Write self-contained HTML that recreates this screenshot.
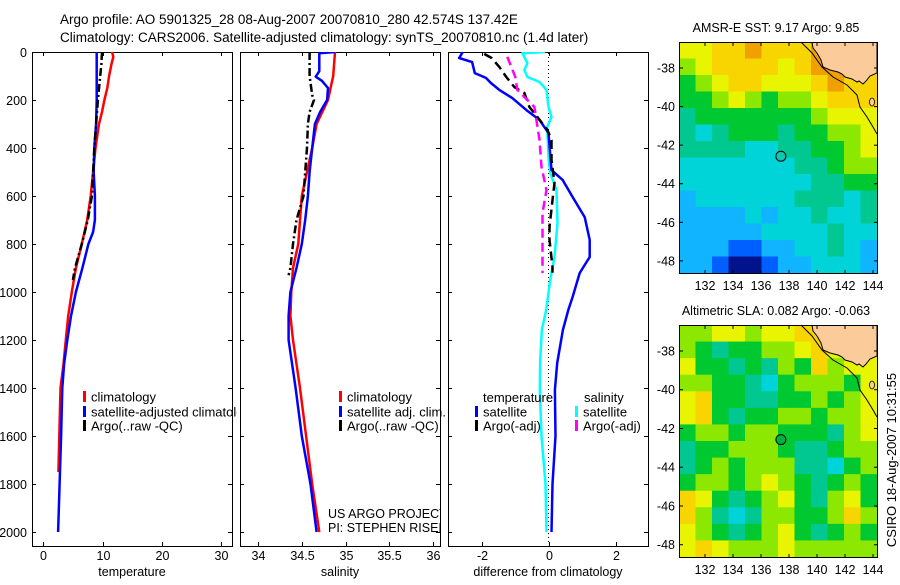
<!DOCTYPE html>
<html><head><meta charset="utf-8">
<style>
html,body{margin:0;padding:0;background:#fff;}
body{width:900px;height:580px;overflow:hidden;font-family:"Liberation Sans",sans-serif;}
svg text{font-family:"Liberation Sans",sans-serif;fill:#000;}
</style></head>
<body>
<svg id="fig" width="900" height="580" viewBox="0 0 900 580" xmlns="http://www.w3.org/2000/svg">
<text x="60" y="24" font-size="13.5">Argo profile: AO 5901325_28 08-Aug-2007 20070810_280 42.574S 137.42E</text>
<text x="60" y="42" font-size="13.5">Climatology: CARS2006. Satellite-adjusted climatology: synTS_20070810.nc (1.4d later)</text>
<defs>
<clipPath id="c1"><rect x="32" y="52" width="205" height="494"/></clipPath>
<clipPath id="c2"><rect x="240" y="52" width="200" height="494"/></clipPath>
<clipPath id="c3"><rect x="448" y="52" width="200" height="494"/></clipPath>
<clipPath id="m1"><rect x="679" y="42" width="198" height="231"/></clipPath>
<clipPath id="m2"><rect x="679" y="325" width="198" height="232"/></clipPath>
</defs>
<g id="panels"></g>
<g id="maps"></g>
<text transform="translate(896,460) rotate(-90)" text-anchor="middle" font-size="13">CSIRO 18-Aug-2007 10:31:55</text>
</svg>
<script>
// ---------- profile data (depth in m) ----------
const tDepthClim = [0,20,50,100,150,200,250,300,400,500,600,700,800,900,1000,1100,1200,1300,1400,1600,1750];
const tClim      = [11.6,11.8,11.5,11.1,10.8,10.3,9.9,9.4,8.8,8.4,8.0,7.4,6.5,5.5,4.8,4.2,3.8,3.4,2.9,2.7,2.55];
const tDepthSat  = [0,100,200,300,400,500,600,700,750,800,900,1000,1100,1200,1300,1400,1600,1800,2000];
const tSat       = [9.0,9.0,9.0,8.9,8.6,8.5,8.7,8.7,8.4,7.6,6.6,5.5,4.67,4.05,3.5,3.2,3.0,2.75,2.5];
const tDepthArgo = [0,50,100,200,300,400,500,600,700,800,900,950];
const tArgo      = [9.9,9.8,9.6,9.2,8.9,8.6,8.4,8.2,7.5,6.5,5.35,5.0];

const sDepthClim = [0,100,200,300,400,500,600,700,800,900,1000,1100,1200,1300,1400,1600,1800,2000];
const sClim      = [34.88,34.86,34.80,34.67,34.62,34.56,34.50,34.48,34.46,34.40,34.38,34.37,34.40,34.44,34.48,34.55,34.62,34.70];
const sDepthSat  = [0,5,50,80,103,120,150,200,250,300,400,500,600,700,800,900,1000,1100,1200,1300,1400,1600,1800,2000];
const sSat       = [34.88,34.70,34.70,34.70,34.66,34.73,34.80,34.79,34.71,34.65,34.62,34.59,34.57,34.54,34.50,34.44,34.37,34.35,34.35,34.39,34.43,34.50,34.60,34.67];
const sDepthArgo = [0,100,180,200,250,300,400,500,600,700,800,900,930];
const sArgo      = [34.59,34.59,34.62,34.64,34.59,34.57,34.56,34.54,34.52,34.44,34.40,34.37,34.35];

const dDepthTSat = [0,5,25,42,88,108,129,158,192,242,283,338,492,533,604,688,783,854,921,1021,1075,1158,1296,1408,1600,1800,2000];
const dTSat      = [-2.6,-2.58,-2.67,-2.28,-2.2,-1.87,-1.72,-1.47,-1.08,-0.66,-0.27,0.0,0.09,0.42,0.72,1.08,1.23,1.23,0.93,0.72,0.59,0.43,0.26,0.19,0.21,0.12,0.09];
const dDepthSSat = [0,5,46,75,104,125,158,229,271,313,438,504,575,713,854,950,1075,1158,1296,1408,1600,1800,2000];
const dSSat      = [-0.1,-0.78,-0.63,-0.72,-0.63,-0.27,-0.06,0.0,0.09,-0.04,0.0,0.05,0.24,0.27,0.18,0.05,-0.07,-0.2,-0.25,-0.26,-0.21,-0.09,-0.06];
const dDepthTArgo = [8,25,62,104,146,171,229,271,325,367,450,546,617,729,783,896,920];
const dTArgo      = [-1.92,-1.7,-1.47,-1.26,-1.02,-0.72,-0.57,-0.33,-0.03,0.09,0.09,0.18,0.12,0.03,0.03,0.12,0.12];
const dDepthSArgo = [20,62,104,158,229,283,367,479,575,671,783,921];
const dSArgo      = [-1.23,-1.11,-0.99,-0.93,-0.42,-0.36,-0.27,-0.21,-0.06,-0.18,-0.18,-0.18];

const depthTicks = [0,200,400,600,800,1000,1200,1400,1600,1800,2000];
const tTicks = [0,10,20,30];
const sTicks = [34,34.5,35,35.5,36];
const sTickLabels = ["34","34.5","35","35.5","36"];
const dTicks = [-2,0,2];

// ---------- map data (12 cols x 14 rows, colour class 0..9, -1 = land) ----------
const sstGrid = [
[7,7,8,8,9,8,8,8,9,-1,-1,-1],
[6,7,8,8,8,8,7,8,9,9,-1,-1],
[5,6,7,8,8,7,7,7,8,9,8,8],
[5,5,6,7,6,5,6,6,7,8,8,8],
[4,5,5,5,5,5,5,5,6,7,7,7],
[4,3,4,5,5,5,4,5,5,6,6,7],
[4,4,4,4,3,3,4,4,5,5,6,7],
[3,3,3,3,3,3,3,4,4,5,6,6],
[3,3,3,3,3,3,3,3,4,4,5,5],
[2,3,3,3,3,3,3,4,4,4,3,4],
[2,2,2,2,3,2,3,3,4,3,3,4],
[2,2,2,2,2,3,3,3,3,4,3,3],
[2,2,2,1,1,2,2,3,3,4,3,2],
[2,2,1,0,0,1,2,2,3,3,3,2]];
const slaGrid = [
[6,6,7,7,6,7,7,8,8,-1,-1,-1],
[6,5,4,5,5,6,6,7,8,7,7,7],
[7,5,5,4,5,4,6,5,8,6,7,7],
[6,6,5,5,4,3,5,6,6,6,5,7],
[7,8,5,5,4,4,5,5,6,5,6,7],
[7,8,5,4,5,5,6,6,5,6,6,7],
[5,6,6,5,6,6,5,5,5,4,6,7],
[4,5,5,6,6,6,5,4,4,5,6,6],
[4,5,6,5,6,6,6,4,4,3,5,6],
[5,6,6,5,6,7,6,5,4,5,6,5],
[8,7,5,4,5,6,7,5,4,6,7,5],
[8,6,4,3,4,6,6,5,5,6,8,6],
[7,6,5,4,5,6,7,5,4,5,6,5],
[7,8,7,6,6,6,7,6,6,6,6,6]];
const palette = ["#00128c","#0060ff","#10b4ff","#00d4d8","#00c890","#00c830","#8ce800","#e8f400","#f8d400","#f0a000"];
const lonTicks = [132,134,136,138,140,142,144];
const latTicks = [-38,-40,-42,-44,-46,-48];
const argoLon = 137.42, argoLat = -42.574;

const NS = "http://www.w3.org/2000/svg";
function mk(tag, attrs, parent){const e=document.createElementNS(NS,tag);for(const k in attrs)e.setAttribute(k,attrs[k]);parent.appendChild(e);return e;}

const Y = d => 52 + 0.24*d;
const panelsG = document.getElementById('panels');
const panels = [
 {x0:32, xs:v=>43.3+5.93*v, ticks:tTicks, labels:tTicks.map(String), title:"temperature", clip:"c1", name:"temperature-panel"},
 {x0:240, xs:v=>258+87.5*(v-34), ticks:sTicks, labels:sTickLabels, title:"salinity", clip:"c2", name:"salinity-panel"},
 {x0:448, xs:v=>548.5+33.5*v, ticks:dTicks, labels:dTicks.map(String), title:"difference from climatology", clip:"c3", name:"difference-panel"}
];
panels.forEach((p,pi)=>{
  const g = mk('g',{},panelsG);
  
  
  const W=200, top=52, bot=546;
  const box = mk('rect',{x:p.x0+0.5,y:top+0.5,width:W,height:bot-top,fill:'none',stroke:'#000','stroke-width':1},g);
  
  
  depthTicks.forEach(d=>{
    const y=Y(d)+0.5;
    mk('line',{x1:p.x0,x2:p.x0+4,y1:y,y2:y,stroke:'#000'},g);
    mk('line',{x1:p.x0+W-4,x2:p.x0+W,y1:y,y2:y,stroke:'#000'},g);
    if(pi===0){const t=mk('text',{x:27,y:y+4.5,'text-anchor':'end','font-size':12.5},g);t.textContent=d;
      
      }
  });
  p.ticks.forEach((v,i)=>{
    const x=Math.round(p.xs(v))+0.5;
    mk('line',{x1:x,x2:x,y1:top,y2:top+4,stroke:'#000'},g);
    mk('line',{x1:x,x2:x,y1:bot-4,y2:bot,stroke:'#000'},g);
    const t=mk('text',{x:x,y:560,'text-anchor':'middle','font-size':12.5},g);t.textContent=p.labels[i];
    
    
  });
  const tt=mk('text',{x:p.x0+100,y:576,'text-anchor':'middle','font-size':12.5},g);tt.textContent=p.title;
  
  
});
function line(depths, vals, xs, color, dash, clip, name, width){
  const pts = depths.map((d,i)=>xs(vals[i]).toFixed(1)+','+Y(d).toFixed(1)).join(' ');
  const a={points:pts,fill:'none',stroke:color,'stroke-width':width||2.5,'clip-path':'url(#'+clip+')','stroke-linejoin':'round'};
  if(dash)a['stroke-dasharray']=dash;
  const e=mk('polyline',a,panelsG);
  
  
}
const P=panels;
const zl=mk('line',{x1:P[2].xs(0),x2:P[2].xs(0),y1:53,y2:545,stroke:'#000','stroke-dasharray':'1,3'},panelsG);


line(tDepthClim,tClim,P[0].xs,'#ff0000',null,'c1','temp-climatology-line');
line(tDepthSat,tSat,P[0].xs,'#0000ff',null,'c1','temp-satellite-line');
line(tDepthArgo,tArgo,P[0].xs,'#000',"8,3,2,3",'c1','temp-argo-line');
line(sDepthClim,sClim,P[1].xs,'#ff0000',null,'c2','sal-climatology-line');
line(sDepthSat,sSat,P[1].xs,'#0000ff',null,'c2','sal-satellite-line');
line(sDepthArgo,sArgo,P[1].xs,'#000',"8,3,2,3",'c2','sal-argo-line');
line(dDepthSSat,dSSat,P[2].xs,'#00ffff',null,'c3','diff-sal-satellite-line');
line(dDepthTSat,dTSat,P[2].xs,'#0000ff',null,'c3','diff-temp-satellite-line');
line(dDepthTArgo,dTArgo,P[2].xs,'#000',"9,5",'c3','diff-temp-argo-line');
line(dDepthSArgo,dSArgo,P[2].xs,'#ff00ff',"9,5",'c3','diff-sal-argo-line');

function legend(x,y,color,text,clip){
  const g=mk('g',{},panelsG);
  
  
  mk('rect',{x:x,y:y-6,width:3,height:11,fill:color},g);
  const t=mk('text',{x:x+8,y:y+4.5,'font-size':13},g);t.textContent=text;
  if(clip)t.setAttribute('clip-path','url(#'+clip+')');
}
legend(83,397,'#ff0000','climatology');
legend(83,412,'#0000ff','satellite-adjusted climatology','c1');
legend(83,426,'#000','Argo(..raw -QC)');
legend(339,397,'#ff0000','climatology');
legend(339,412,'#0000ff','satellite adj. clim.');
legend(339,426,'#000','Argo(..raw -QC)');
let h1=mk('text',{x:483,y:402,'font-size':13},panelsG);h1.textContent='temperature';


let h2=mk('text',{x:584,y:402,'font-size':13},panelsG);h2.textContent='salinity';


legend(475,412,'#0000ff','satellite');
legend(475,426,'#000','Argo(-adj)');
legend(575,412,'#00ffff','satellite');
legend(575,426,'#ff00ff','Argo(-adj)');
let u1=mk('text',{x:328,y:518,'font-size':12.5,'clip-path':'url(#c2)'},panelsG);u1.textContent='US ARGO PROJECT';


let u2=mk('text',{x:328,y:532,'font-size':12.5,'clip-path':'url(#c2)'},panelsG);u2.textContent='PI: STEPHEN RISER';



// ---------- maps ----------
const mapsG=document.getElementById('maps');
const land=[[133,0],[134,6],[138,11],[142,18],[144,25],[151,28],[159,30],[163,32],[166,35],[173,37],[178,40],[180,39],[184,42],[187,39],[191,34],[198,31],[198,0]];
const coast=[[122,0],[133,11],[143,25],[154,35],[168,43],[178,53],[181,65],[188,75],[194,85],[198,92]];
function drawMap(grid, top, h, title, clip, name, dotColor){
  const g=mk('g',{},mapsG);
  
  
  const L=679,W=198;
  const lonX=lon=>705+(lon-132)*14;
  const latY=lat=>top+26+(-38-lat)*(h*0.835/10);
  const rows=grid.length, cols=grid[0].length, cw=W/cols, ch=h/rows;
  const cg=mk('g',{'clip-path':'url(#'+clip+')'},g);
  grid.forEach((r,ri)=>r.forEach((v,ci)=>{
    const c=mk('rect',{x:(L+ci*cw).toFixed(2),y:(top+ri*ch).toFixed(2),width:(cw+0.6).toFixed(2),height:(ch+0.6).toFixed(2),fill:v<0?'#fccb9a':palette[v]},cg);
    
    
  }));
  const lp=mk('polygon',{points:land.map(p=>(L+p[0])+','+(top+p[1])).join(' '),fill:'#fccb9a',stroke:'#000','stroke-width':1},cg);
  
  
  const cl=mk('polyline',{points:coast.map(p=>(L+p[0])+','+(top+p[1])).join(' '),fill:'none',stroke:'#000','stroke-width':1},cg);
  
  
  const isl=mk('ellipse',{cx:L+193,cy:top+60,rx:2.5,ry:4,fill:'#fccb9a',stroke:'#000','stroke-width':0.8},cg);
  
  
  const fr=mk('rect',{x:L+0.5,y:top+0.5,width:W,height:h,fill:'none',stroke:'#000'},g);
  
  
  lonTicks.forEach(lon=>{const x=lonX(lon);
    mk('line',{x1:x,x2:x,y1:top,y2:top+4,stroke:'#000'},g);
    mk('line',{x1:x,x2:x,y1:top+h-3,y2:top+h+1,stroke:'#000'},g);
    const t=mk('text',{x:x,y:top+h+17,'text-anchor':'middle','font-size':12.5},g);t.textContent=lon;
    
    });
  latTicks.forEach(lat=>{const y=latY(lat);
    mk('line',{x1:L,x2:L+4,y1:y,y2:y,stroke:'#000'},g);
    mk('line',{x1:L+W-3,x2:L+W+1,y1:y,y2:y,stroke:'#000'},g);
    const t=mk('text',{x:L-4,y:y+4.5,'text-anchor':'end','font-size':12.5},g);t.textContent=lat;
    
    });
  const dot=mk('circle',{cx:lonX(argoLon),cy:latY(argoLat),r:5,fill:dotColor,stroke:'#000','stroke-width':1},g);
  
  
  const tt=mk('text',{x:L+W/2-2,y:top-10,'text-anchor':'middle','font-size':12.5},g);tt.textContent=title;
  
  
}
drawMap(sstGrid,42,231,'AMSR-E SST: 9.17 Argo: 9.85','m1','sst-map','#10c8b0');
drawMap(slaGrid,325,232,'Altimetric SLA: 0.082 Argo: -0.063','m2','sla-map','#00b040');
</script>
</body></html>
